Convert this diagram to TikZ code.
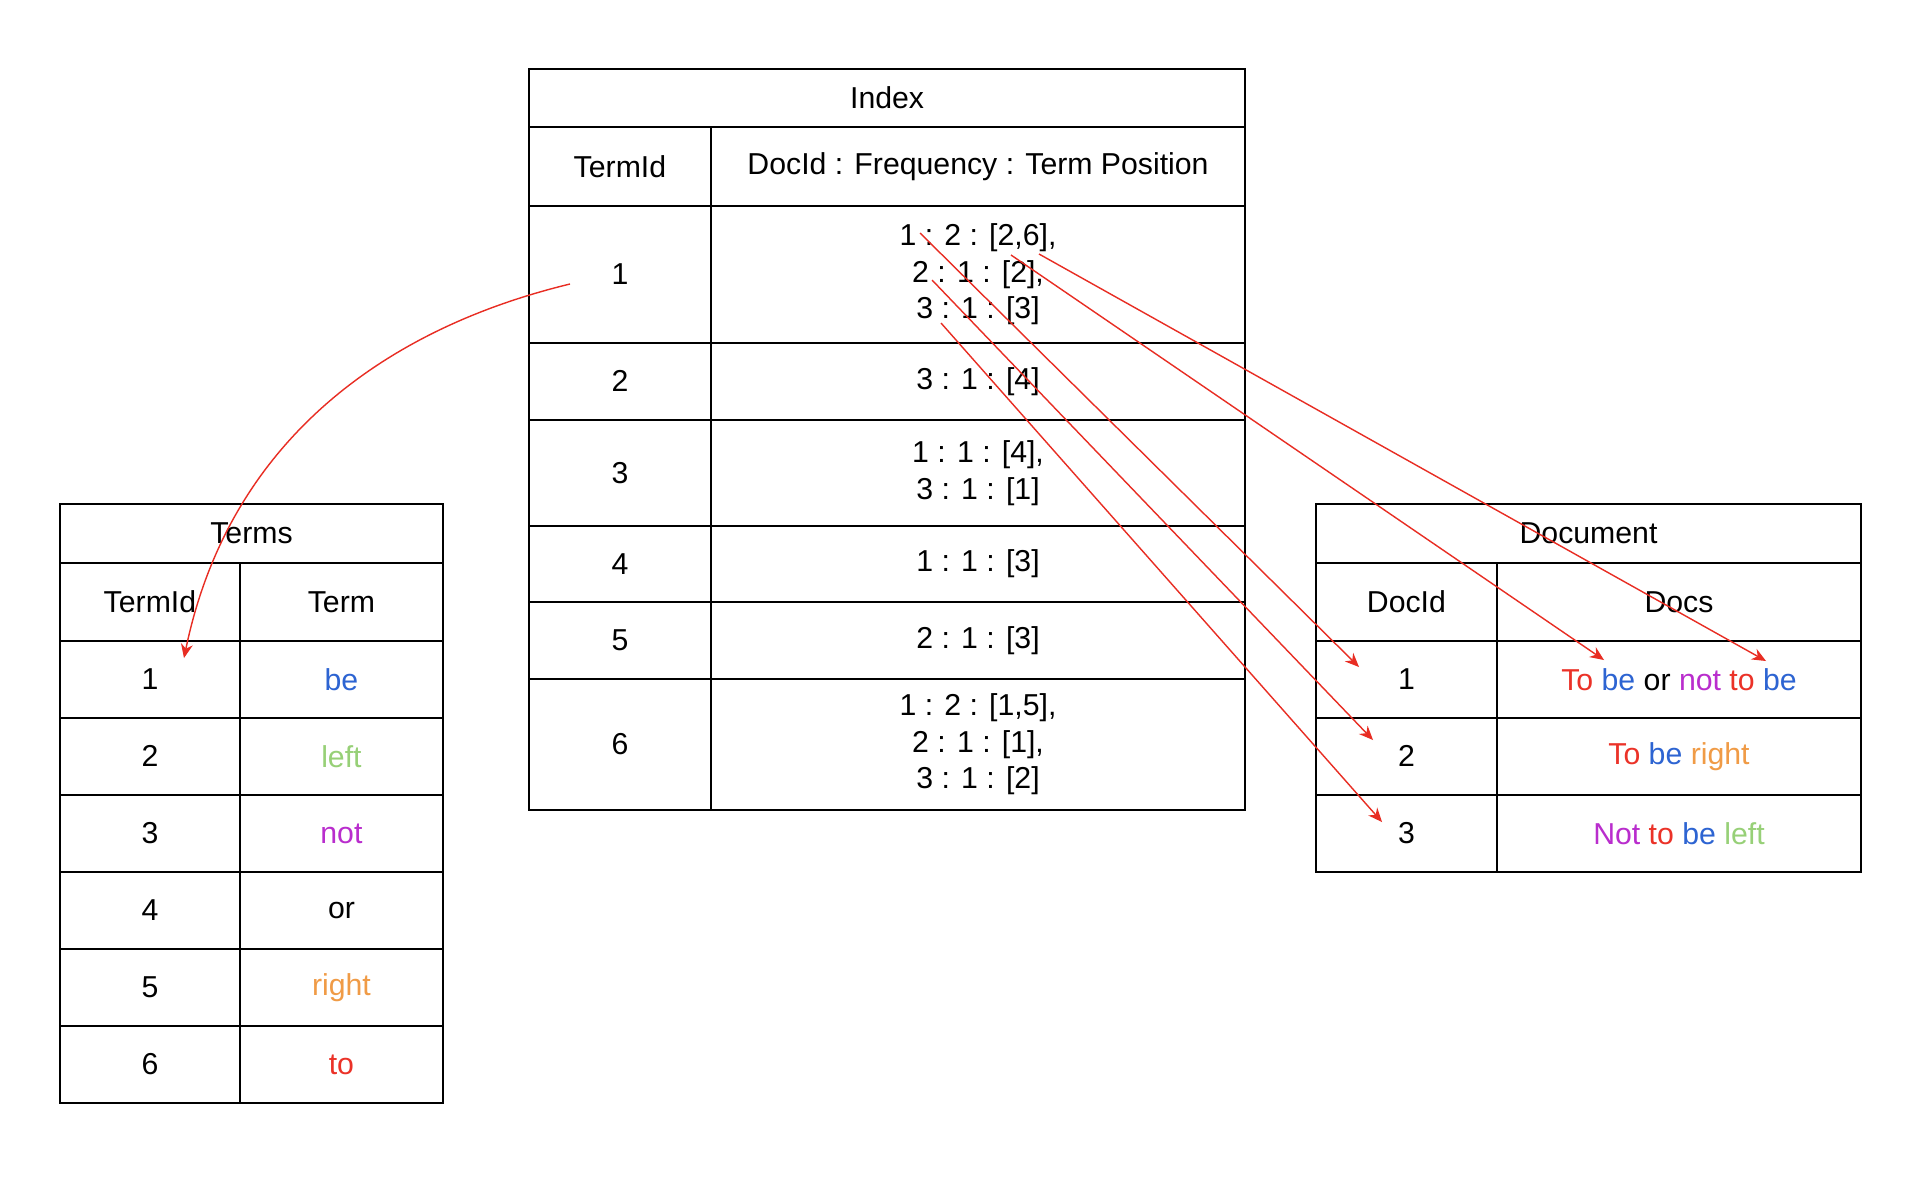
\documentclass[tikz,border=0pt]{standalone}
\usepackage{fontspec}
\setmainfont{Liberation Sans}
\usetikzlibrary{arrows.meta}
\definecolor{wordblue}{RGB}{45,100,210}
\definecolor{wordgreen}{RGB}{151,208,119}
\definecolor{wordpurple}{RGB}{185,45,205}
\definecolor{wordorange}{RGB}{240,155,70}
\definecolor{wordred}{RGB}{235,50,40}
\definecolor{linkred}{RGB}{232,45,35}

\begin{document}
\begin{tikzpicture}[x=0.01cm,y=-0.01cm,
  cell/.style={draw,line width=0.5pt,anchor=north west,inner sep=0pt,align=center,
    font=\fontsize{8.6}{10.4}\selectfont},
  link/.style={draw=linkred,line width=0.4pt,-{Stealth[length=4pt,width=3.4pt]}}]
\fill[white] (0,0) rectangle (1916,1184);
\useasboundingbox (0,0) rectangle (1916,1184);

% index table
\node[cell,minimum width=7.16cm,minimum height=0.58cm] (ixtitle) at (528,68) {Index};
\node[cell,minimum width=1.82cm,minimum height=0.79cm] (ixhid) at (528,126) {TermId};
\node[cell,minimum width=5.34cm,minimum height=0.79cm] (ixhpost) at (710,126) {DocId : Frequency : Term Position};
\node[cell,minimum width=1.82cm,minimum height=1.37cm] (ix1) at (528,205) {1};
\node[cell,minimum width=5.34cm,minimum height=1.37cm] (ixp1) at (710,205) {1 : 2 : [2,6],\\2 : 1 : [2],\\3 : 1 : [3]};
\node[cell,minimum width=1.82cm,minimum height=0.77cm] (ix2) at (528,342) {2};
\node[cell,minimum width=5.34cm,minimum height=0.77cm] (ixp2) at (710,342) {3 : 1 : [4]};
\node[cell,minimum width=1.82cm,minimum height=1.06cm] (ix3) at (528,419) {3};
\node[cell,minimum width=5.34cm,minimum height=1.06cm] (ixp3) at (710,419) {1 : 1 : [4],\\3 : 1 : [1]};
\node[cell,minimum width=1.82cm,minimum height=0.76cm] (ix4) at (528,525) {4};
\node[cell,minimum width=5.34cm,minimum height=0.76cm] (ixp4) at (710,525) {1 : 1 : [3]};
\node[cell,minimum width=1.82cm,minimum height=0.77cm] (ix5) at (528,601) {5};
\node[cell,minimum width=5.34cm,minimum height=0.77cm] (ixp5) at (710,601) {2 : 1 : [3]};
\node[cell,minimum width=1.82cm,minimum height=1.31cm] (ix6) at (528,678) {6};
\node[cell,minimum width=5.34cm,minimum height=1.31cm] (ixp6) at (710,678) {1 : 2 : [1,5],\\2 : 1 : [1],\\3 : 1 : [2]};

% terms table
\node[cell,minimum width=3.83cm,minimum height=0.59cm] (tmtitle) at (59,503) {Terms};
\node[cell,minimum width=1.80cm,minimum height=0.78cm] (tmhid) at (59,562) {TermId};
\node[cell,minimum width=2.03cm,minimum height=0.78cm] (tmhterm) at (239,562) {Term};
\node[cell,minimum width=1.80cm,minimum height=0.77cm] (tm1) at (59,640) {1};
\node[cell,minimum width=2.03cm,minimum height=0.77cm] (tmw1) at (239,640) {\textcolor{wordblue}{be}};
\node[cell,minimum width=1.80cm,minimum height=0.77cm] (tm2) at (59,717) {2};
\node[cell,minimum width=2.03cm,minimum height=0.77cm] (tmw2) at (239,717) {\textcolor{wordgreen}{left}};
\node[cell,minimum width=1.80cm,minimum height=0.77cm] (tm3) at (59,794) {3};
\node[cell,minimum width=2.03cm,minimum height=0.77cm] (tmw3) at (239,794) {\textcolor{wordpurple}{not}};
\node[cell,minimum width=1.80cm,minimum height=0.77cm] (tm4) at (59,871) {4};
\node[cell,minimum width=2.03cm,minimum height=0.77cm] (tmw4) at (239,871) {or};
\node[cell,minimum width=1.80cm,minimum height=0.77cm] (tm5) at (59,948) {5};
\node[cell,minimum width=2.03cm,minimum height=0.77cm] (tmw5) at (239,948) {\textcolor{wordorange}{right}};
\node[cell,minimum width=1.80cm,minimum height=0.77cm] (tm6) at (59,1025) {6};
\node[cell,minimum width=2.03cm,minimum height=0.77cm] (tmw6) at (239,1025) {\textcolor{wordred}{to}};

% document table
\node[cell,minimum width=5.45cm,minimum height=0.59cm] (dctitle) at (1315,503) {Document};
\node[cell,minimum width=1.81cm,minimum height=0.78cm] (dchid) at (1315,562) {DocId};
\node[cell,minimum width=3.64cm,minimum height=0.78cm] (dchdocs) at (1496,562) {Docs};
\node[cell,minimum width=1.81cm,minimum height=0.77cm] (dc1) at (1315,640) {1};
\node[cell,minimum width=3.64cm,minimum height=0.77cm] (dcd1) at (1496,640) {\textcolor{wordred}{To} \textcolor{wordblue}{be} or \textcolor{wordpurple}{not} \textcolor{wordred}{to} \textcolor{wordblue}{be}};
\node[cell,minimum width=1.81cm,minimum height=0.77cm] (dc2) at (1315,717) {2};
\node[cell,minimum width=3.64cm,minimum height=0.77cm] (dcd2) at (1496,717) {\textcolor{wordred}{To} \textcolor{wordblue}{be} \textcolor{wordorange}{right}};
\node[cell,minimum width=1.81cm,minimum height=0.77cm] (dc3) at (1315,794) {3};
\node[cell,minimum width=3.64cm,minimum height=0.77cm] (dcd3) at (1496,794) {\textcolor{wordpurple}{Not} \textcolor{wordred}{to} \textcolor{wordblue}{be} \textcolor{wordgreen}{left}};

% link ends
\coordinate (ix1from) at (570,284);
\coordinate (tm1to) at (184,658);
\coordinate (dc1from) at (920,233);
\coordinate (dc2from) at (932,280);
\coordinate (dc3from) at (941,323);
\coordinate (pos2from) at (1011,255);
\coordinate (pos6from) at (1039,254);
\coordinate (dc1to) at (1359,667);
\coordinate (dc2to) at (1373,740);
\coordinate (dc3to) at (1382,822);
\coordinate (pos2to) at (1604,660);
\coordinate (pos6to) at (1766,661);

% links
\draw[link] (ix1from) .. controls (380,330) and (228,445) .. (tm1to);
\draw[link] (dc1from) -- (dc1to);
\draw[link] (dc2from) -- (dc2to);
\draw[link] (dc3from) -- (dc3to);
\draw[link] (pos2from) -- (pos2to);
\draw[link] (pos6from) -- (pos6to);
\end{tikzpicture}
\end{document}
